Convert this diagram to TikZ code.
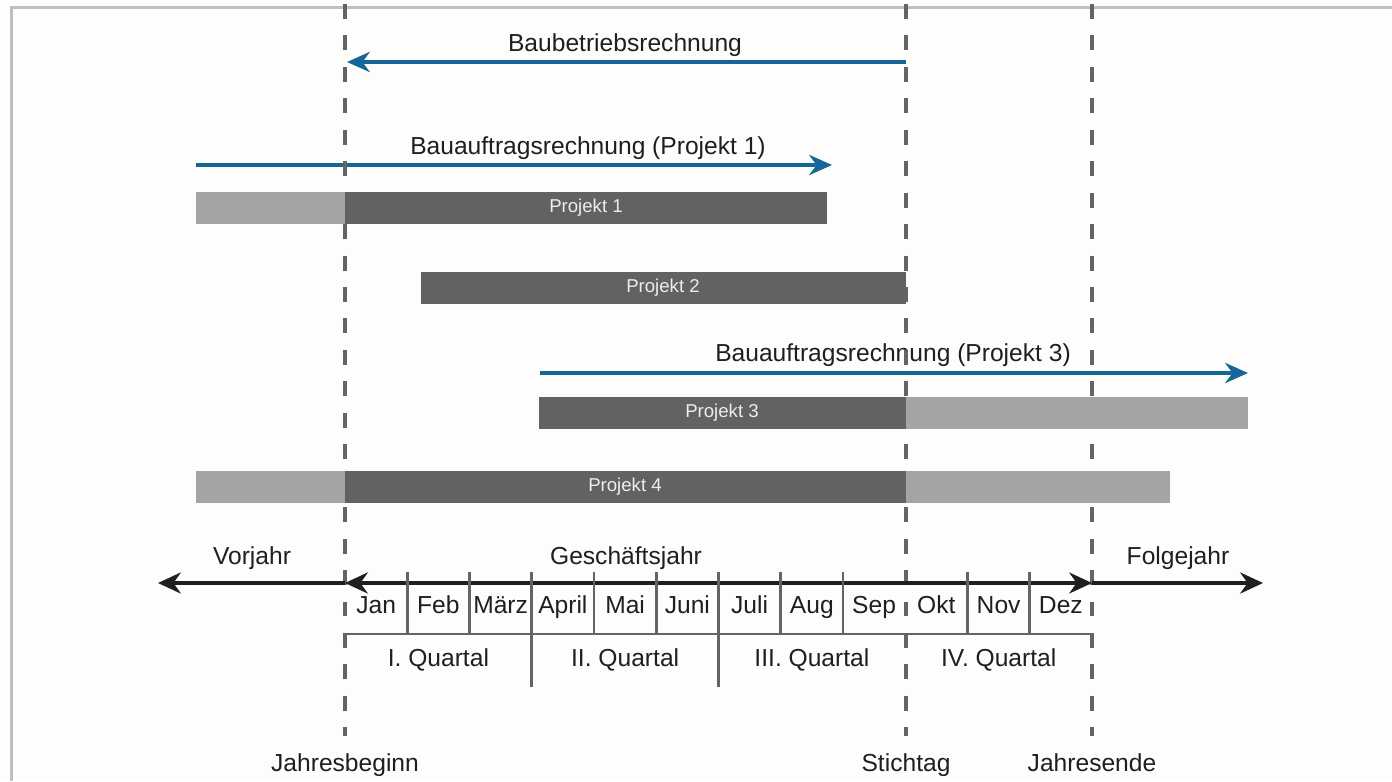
\documentclass[tikz,border=0pt]{standalone}
\usepackage{fontspec}
\setmainfont{Liberation Sans}
\usetikzlibrary{arrows.meta}
\definecolor{blau}{RGB}{22,102,152}
\definecolor{dunkel}{RGB}{98,98,98}
\definecolor{hell}{RGB}{164,164,164}
\definecolor{strich}{RGB}{100,100,100}
\definecolor{grund}{RGB}{253,253,251}
\begin{document}
\begin{tikzpicture}[x=0.02cm,y=-0.02cm,
    blaupfeil/.style={draw=blau,line width=2pt,-{Stealth[length=13pt,width=11.5pt]}},
    zeit/.style={draw=black!88,line width=1.8pt},
    spitze/.tip={Stealth[length=13pt,width=12pt]},
    grenze/.style={draw=strich,line width=1.8pt,dash pattern=on 8.5pt off 9.4pt},
    teil/.style={draw=strich,line width=1.6pt},
    txt/.style={font=\fontsize{14}{16}\selectfont,text=black!88,inner sep=0pt,text height=10pt,text depth=3pt},
    ptxt/.style={font=\fontsize{10.6}{12}\selectfont,text=white!93!black,inner sep=0pt,text height=7.6pt,text depth=2.4pt}]
            \useasboundingbox (0,0) rectangle (1392,781);
            \fill[grund] (0,0) rectangle (1392,781);
            \draw[black!25,line width=1.7pt] (11.5,781) |- (1392,7.5);
            \foreach \x/\y/\n/\gt in {625/45/bbr/Baubetriebsrechnung,588/148/bar1/Bauauftragsrechnung (Projekt 1),893/355/bar3/Bauauftragsrechnung (Projekt 3),252/558/vj/Vorjahr,626/558/gj/Geschäftsjahr,1178/558/fj/Folgejahr}\path (\x,\y) node[txt](\n){\gt};
            \foreach \n/\x/\y in {b1a/906/62,b1e/347/62,b2a/196/165,b2e/832/165,b3a/540/373,b3e/1248/373,vje/158/583,gja/345/583,gje/1092/583,fje/1263/583}\coordinate (\n) at (\x,\y);
            \foreach \a/\e in {b1a/b1e,b2a/b2e,b3a/b3e}\draw[blaupfeil] (\a)--(\e);
            \foreach \x/\n/\gt in {345/jb/Jahresbeginn,906/st/Stichtag,1092/je/Jahresende}{
                \path (\x,765) node[txt](\n){\gt};
                \coordinate (\n o) at (\x,4);
                \coordinate (\n u) at (\x,736);
                \draw[grenze] (\n o)--(\n u);
            }
            \foreach \a/\b/\y/\f in {196/345/192/hell,345/827/192/dunkel,421/906/272/dunkel,539/906/397/dunkel,906/1248/397/hell,196/345/471/hell,345/906/471/dunkel,906/1170/471/hell}\fill[\f] (\a,\y) rectangle (\b,\y+32);
            \foreach \x/\y/\i in {586/208/1,663/288/2,722/413/3,625/487/4}\path (\x,\y) node[ptxt](p\i){Projekt \i};
            \draw[zeit,-spitze] (gja)--(vje);
            \draw[zeit,spitze-spitze] (gja)--(gje);
            \draw[zeit,-spitze] (gje)--(fje);
            \foreach \m[count=\i from 0] in {Jan,Feb,März,April,Mai,Juni,Juli,Aug,Sep,Okt,Nov,Dez}\path (376.1+62.25*\i,607) node[txt](m\i){\m};
            \foreach \i in {1,2,4,5,7,8,10,11}\draw[teil] (345+62.25*\i,572)--(345+62.25*\i,634);
            \foreach \i in {3,6}\draw[teil] (345+62.25*\i,572)--(345+62.25*\i,687);
            \draw[teil] (345,634)--(1092,634);
            \foreach \q[count=\i from 0] in {I,II,III,IV}\path (438.4+186.75*\i,660) node[txt](q\i){\q. Quartal};
        \end{tikzpicture}
\end{document}
